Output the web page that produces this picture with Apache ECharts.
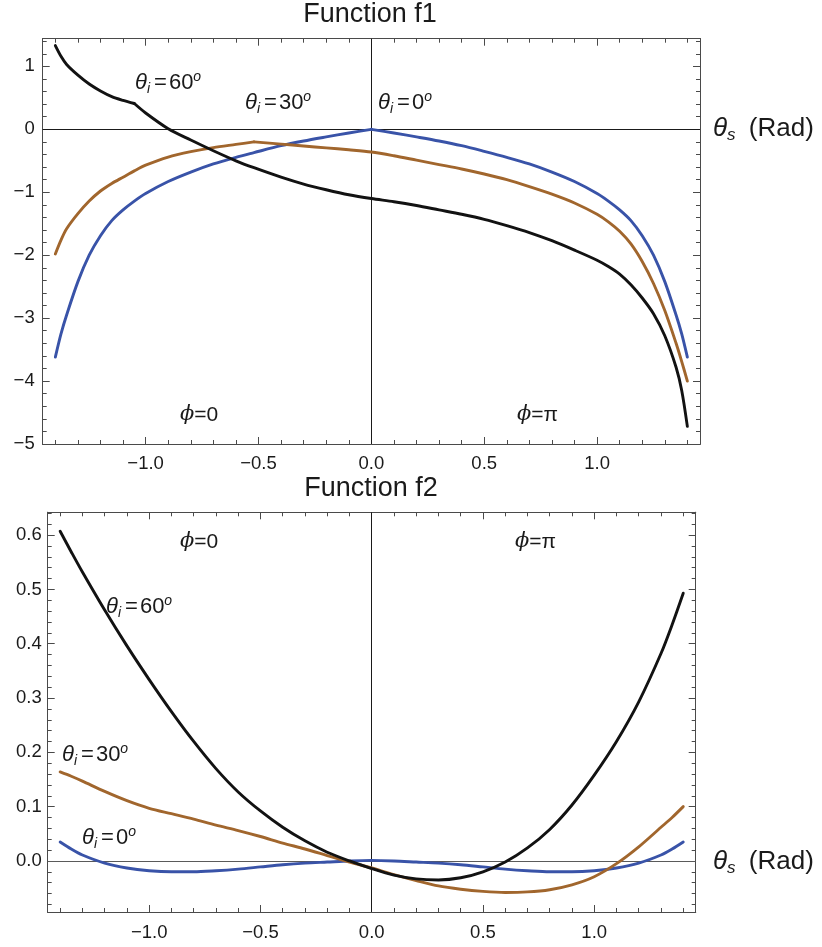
<!DOCTYPE html>
<html><head><meta charset="utf-8">
<script src="https://cdn.jsdelivr.net/npm/echarts@6/dist/echarts.min.js"></script>
<style>html,body{margin:0;padding:0;background:#fff}#c{width:822px;height:947px}</style>
</head><body><div id="c"></div>
<script>
// ---------- DATA ----------
// Function f1 (top panel)
const f1X = [-1.4,-1.375,-1.35,-1.3,-1.25,-1.2,-1.15,-1.1,-1.05,-1.0,-0.9,-0.8,-0.7,-0.6,-0.52,-0.4,-0.3,-0.2,-0.1,0,
             0.1,0.2,0.3,0.4,0.5,0.6,0.7,0.8,0.9,1.0,1.05,1.1,1.15,1.2,1.25,1.3,1.35,1.375,1.4];
const f1Theta0  = [-3.62,-3.25,-2.95,-2.42,-2.0,-1.69,-1.45,-1.28,-1.14,-1.02,-0.83,-0.68,-0.55,-0.445,-0.37,-0.26,-0.185,-0.12,-0.058,0,
                   -0.058,-0.12,-0.185,-0.26,-0.35,-0.445,-0.55,-0.68,-0.83,-1.02,-1.14,-1.28,-1.45,-1.69,-2.0,-2.42,-2.95,-3.25,-3.62];
const f1Theta30 = [-1.98,-1.76,-1.58,-1.34,-1.14,-0.98,-0.86,-0.76,-0.66,-0.57,-0.44,-0.355,-0.29,-0.24,-0.20,-0.235,-0.265,-0.295,-0.325,-0.36,
                   -0.42,-0.49,-0.56,-0.63,-0.71,-0.80,-0.91,-1.03,-1.17,-1.35,-1.47,-1.62,-1.82,-2.10,-2.45,-2.88,-3.40,-3.69,-4.0];
const f1Theta60 = [1.33,1.16,1.03,0.86,0.72,0.61,0.52,0.46,0.41,0.26,0.01,-0.17,-0.34,-0.50,-0.61,-0.76,-0.87,-0.96,-1.04,-1.10,
                   -1.15,-1.21,-1.28,-1.35,-1.43,-1.53,-1.64,-1.77,-1.92,-2.08,-2.18,-2.30,-2.47,-2.68,-2.93,-3.28,-3.78,-4.15,-4.72];
// x positions of the corners (kinks) of each f1 curve: theta0, theta30, theta60
const f1KinkX = [0, -0.52, -1.05];
// Function f2 (bottom panel)
const f2X = [-1.4,-1.35,-1.3,-1.2,-1.1,-1.0,-0.9,-0.8,-0.7,-0.6,-0.5,-0.4,-0.3,-0.2,-0.1,0,
             0.1,0.2,0.3,0.4,0.5,0.6,0.7,0.8,0.9,1.0,1.1,1.2,1.3,1.35,1.4];
const f2Theta0  = [0.035,0.022,0.011,-0.004,-0.013,-0.018,-0.02,-0.02,-0.018,-0.015,-0.011,-0.007,-0.004,-0.002,0.0,0.001,
                   0.0,-0.002,-0.004,-0.007,-0.011,-0.015,-0.018,-0.02,-0.02,-0.018,-0.013,-0.004,0.011,0.022,0.035];
const f2Theta30 = [0.164,0.156,0.147,0.128,0.111,0.097,0.087,0.077,0.066,0.056,0.045,0.033,0.022,0.01,-0.002,-0.013,
                   -0.025,-0.036,-0.046,-0.052,-0.056,-0.058,-0.057,-0.053,-0.044,-0.029,-0.005,0.026,0.062,0.08,0.1];
const f2Theta60 = [0.607,0.569,0.532,0.462,0.396,0.334,0.275,0.220,0.170,0.127,0.092,0.062,0.037,0.016,0.0,-0.014,
                   -0.026,-0.033,-0.035,-0.031,-0.020,-0.002,0.024,0.058,0.103,0.158,0.22,0.293,0.382,0.435,0.493];
// Tick labels
const xTickLabels = [-1.0,-0.5,0.0,0.5,1.0];
const f1YTickLabels = [-5,-4,-3,-2,-1,0,1];
const f2YTickLabels = [0.0,0.1,0.2,0.3,0.4,0.5,0.6];

// ---------- STYLE / HELPERS ----------
const FONT = "'Liberation Sans', Arial, Helvetica, sans-serif";
const FRAME = '#4a4a4a';
const C_BLUE = '#3953a8', C_BROWN = '#a1662d', C_BLACK = '#121212';
const LW = 2.9;
function steps(a, b, s) { const r = []; const n = Math.round((b - a) / s); for (let i = 0; i <= n; i++) r.push(+(a + i * s).toFixed(4)); return r; }
const minus = s => s.replace('-', '\u2212');

function mkAxis(gridIndex, position, min, max, ticks, len, labels, fmt, margin) {
  return {
    type: 'value', gridIndex, position, min, max, scale: true,
    axisLine: { show: true, onZero: false, lineStyle: { color: FRAME, width: 1 } },
    axisTick: { show: true, inside: true, length: len, customValues: ticks, lineStyle: { color: FRAME, width: 1 } },
    axisLabel: labels ? { show: true, customValues: labels, formatter: fmt, color: '#1a1a1a', fontSize: 18.5, fontFamily: FONT, margin: margin }
                      : { show: false },
    splitLine: { show: false }, minorTick: { show: false }, minorSplitLine: { show: false }
  };
}

const X_MIN = -1.456, X_MAX = 1.456;
const xMinor = steps(-1.4, 1.4, 0.1);
const fmtX = v => minus(v.toFixed(1));

const xAxes = [
  mkAxis(0, 'bottom', X_MIN, X_MAX, xTickLabels, 7, xTickLabels, fmtX, 10),
  mkAxis(0, 'bottom', X_MIN, X_MAX, xMinor, 4, null),
  mkAxis(0, 'top', X_MIN, X_MAX, xTickLabels, 7, null),
  mkAxis(0, 'top', X_MIN, X_MAX, xMinor, 4, null),
  mkAxis(1, 'bottom', X_MIN, X_MAX, xTickLabels, 7, xTickLabels, fmtX, 11),
  mkAxis(1, 'bottom', X_MIN, X_MAX, xMinor, 4, null),
  mkAxis(1, 'top', X_MIN, X_MAX, xTickLabels, 7, null),
  mkAxis(1, 'top', X_MIN, X_MAX, xMinor, 4, null)
];
const Y1_MIN = -5.0, Y1_MAX = 1.44;
const Y2_MIN = -0.094, Y2_MAX = 0.642;
const y1Minor = steps(-5, 1.4, 0.2);
const y2Minor = steps(-0.08, 0.64, 0.02);
const yAxes = [
  mkAxis(0, 'left', Y1_MIN, Y1_MAX, f1YTickLabels, 7, f1YTickLabels, v => minus(String(Math.round(v))), 8),
  mkAxis(0, 'left', Y1_MIN, Y1_MAX, y1Minor, 4, null),
  mkAxis(0, 'right', Y1_MIN, Y1_MAX, f1YTickLabels, 7, null),
  mkAxis(0, 'right', Y1_MIN, Y1_MAX, y1Minor, 4, null),
  mkAxis(1, 'left', Y2_MIN, Y2_MAX, f2YTickLabels, 7, f2YTickLabels, v => minus(v.toFixed(1)), 6),
  mkAxis(1, 'left', Y2_MIN, Y2_MAX, y2Minor, 4, null),
  mkAxis(1, 'right', Y2_MIN, Y2_MAX, f2YTickLabels, 7, null),
  mkAxis(1, 'right', Y2_MIN, Y2_MAX, y2Minor, 4, null)
];

const zip = (xs, ys) => xs.map((x, i) => [x, ys[i]]);
function line(name, pts, color, axisIdx, smooth, markLine) {
  const s = {
    name, type: 'line', xAxisIndex: axisIdx, yAxisIndex: axisIdx, data: pts,
    showSymbol: false, symbol: 'none', smooth: smooth, clip: true, z: 3,
    lineStyle: { color, width: LW, cap: 'round', join: 'round' }, itemStyle: { color }
  };
  if (markLine) s.markLine = markLine;
  return s;
}
// split a curve at its corner so each smooth piece keeps the sharp corner
function pieces(name, xs, ys, kx, color, axisIdx, markLine) {
  const pts = zip(xs, ys);
  return [
    line(name + ' a', pts.filter(p => p[0] <= kx + 1e-9), color, axisIdx, 0.3, markLine),
    line(name + ' b', pts.filter(p => p[0] >= kx - 1e-9), color, axisIdx, 0.3)
  ];
}
const zeroLines = (hColor) => ({
  silent: true, symbol: ['none', 'none'], label: { show: false }, animation: false, z: 1,
  data: [
    { xAxis: 0, lineStyle: { color: '#1a1a1a', width: 1, type: 'solid' } },
    { yAxis: 0, lineStyle: { color: hColor, width: 1, type: 'solid' } }
  ]
});

const series = [
  ...pieces('f1 θi=0', f1X, f1Theta0, f1KinkX[0], C_BLUE, 0, zeroLines('#1a1a1a')),
  ...pieces('f1 θi=30', f1X, f1Theta30, f1KinkX[1], C_BROWN, 0),
  ...pieces('f1 θi=60', f1X, f1Theta60, f1KinkX[2], C_BLACK, 0),
  line('f2 θi=0', zip(f2X, f2Theta0), C_BLUE, 4, 0.3, zeroLines('#5a5a5a')),
  line('f2 θi=30', zip(f2X, f2Theta30), C_BROWN, 4, 0.3),
  line('f2 θi=60', zip(f2X, f2Theta60), C_BLACK, 4, 0.3)
];

// ---------- TEXT ANNOTATIONS ----------
const TXT = '#1a1a1a';
function thetaLabel(x, y, val, size) {
  return {
    type: 'text', x, y, z: 10,
    style: {
      text: '{t|θ}{s|i}{e|=}{n|' + val + '}{o|o}',
      textVerticalAlign: 'middle', fill: TXT,
      rich: {
        t: { fontFamily: FONT, fontStyle: 'italic', fontSize: size, lineHeight: 26, fill: TXT },
        s: { fontFamily: FONT, fontStyle: 'italic', fontSize: Math.round(size * 0.62), lineHeight: 13, verticalAlign: 'bottom', fill: TXT },
        e: { fontFamily: FONT, fontSize: size, lineHeight: 26, padding: [0, 2, 0, 4], fill: TXT },
        n: { fontFamily: FONT, fontSize: size, lineHeight: 26, fill: TXT },
        o: { fontFamily: FONT, fontStyle: 'italic', fontSize: Math.round(size * 0.62), lineHeight: 14, verticalAlign: 'top', fill: TXT }
      }
    }
  };
}
function phiLabel(x, y, val) {
  return {
    type: 'text', x, y, z: 10,
    style: {
      text: '{p|ϕ}{n|=' + val + '}', textVerticalAlign: 'middle', fill: TXT,
      rich: {
        p: { fontFamily: "'DejaVu Serif', serif", fontStyle: 'italic', fontSize: 21, fill: TXT },
        n: { fontFamily: FONT, fontSize: 21, fill: TXT }
      }
    }
  };
}
function axisTitle(x, y) {
  return {
    type: 'text', x, y, z: 10,
    style: {
      text: '{t|θ}{s|s}{n| (Rad)}', textVerticalAlign: 'middle', fill: TXT,
      rich: {
        t: { fontFamily: FONT, fontStyle: 'italic', fontSize: 26, lineHeight: 30, fill: TXT },
        s: { fontFamily: FONT, fontStyle: 'italic', fontSize: 17, lineHeight: 17, verticalAlign: 'bottom', padding: [0, 6, 0, 0], fill: TXT },
        n: { fontFamily: FONT, fontSize: 26, lineHeight: 30, fill: TXT }
      }
    }
  };
}
function title(x, y, text) {
  return { type: 'text', x, y, z: 10, style: { text, fontFamily: FONT, fontSize: 27, fill: TXT, textAlign: 'center', textVerticalAlign: 'middle' } };
}

const graphics = [
  title(370, 15, 'Function f1'),
  title(371, 489, 'Function f2'),
  thetaLabel(135, 83, '60', 22),
  thetaLabel(245, 103, '30', 22),
  thetaLabel(378, 103, '0', 22),
  phiLabel(180, 415, '0'),
  phiLabel(517, 415, 'π'),
  axisTitle(713, 129),
  phiLabel(180, 542, '0'),
  phiLabel(515, 542, 'π'),
  thetaLabel(106, 607, '60', 22),
  thetaLabel(62, 755, '30', 22),
  thetaLabel(82, 838, '0', 22),
  axisTitle(713, 862)
];

const chart = echarts.init(document.getElementById('c'), null, { renderer: 'canvas' });
chart.setOption({
  animation: false,
  backgroundColor: '#fff',
  grid: [
    { left: 42.7, top: 38.7, width: 657.3, height: 405.3 },
    { left: 47.7, top: 512.3, width: 648, height: 399.7 }
  ],
  xAxis: xAxes,
  yAxis: yAxes,
  series,
  graphic: graphics
});
</script>
</body></html>
